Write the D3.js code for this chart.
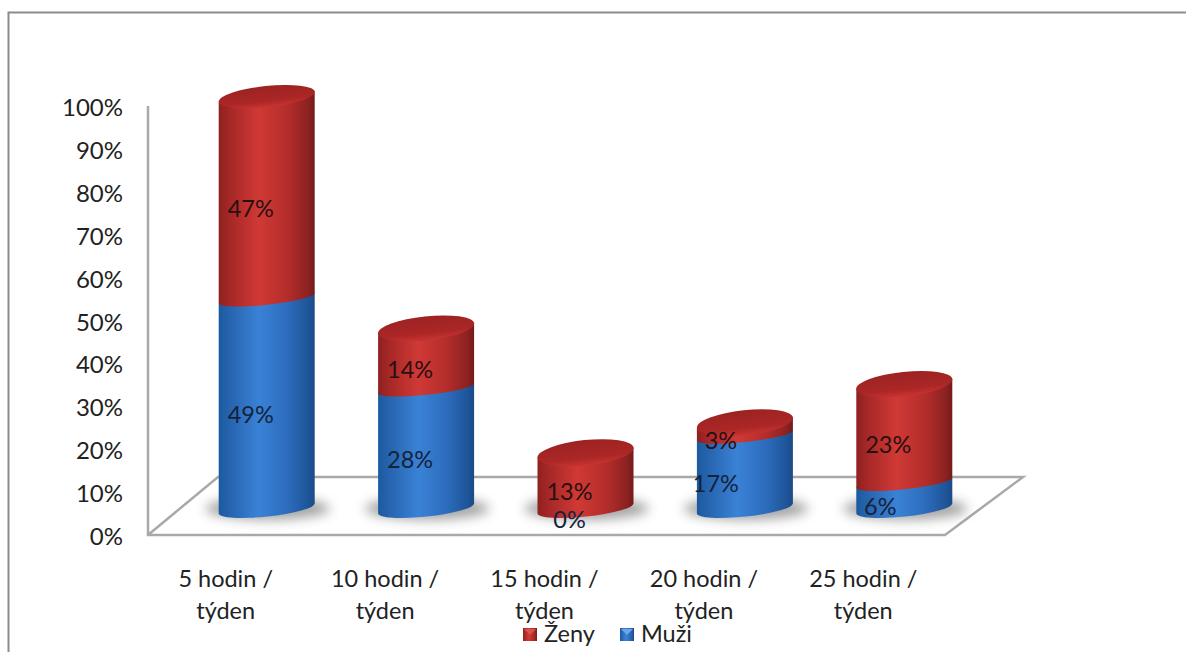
<!DOCTYPE html>
<html>
<head>
<meta charset="utf-8">
<script src="https://cdnjs.cloudflare.com/ajax/libs/d3/7.8.5/d3.min.js"></script>
<style>
  html, body { margin: 0; padding: 0; background: #fff; }
  svg { display: block; }
  text { font-family: Lato, "Open Sans", sans-serif; fill: #222; }
</style>
</head>
<body>
<svg id="chart" width="1186" height="652"></svg>
<script>
// Weekly hours by gender, drawn as stacked cylinders on a tilted floor
const categories = ["5 hodin /|týden", "10 hodin /|týden", "15 hodin /|týden", "20 hodin /|týden", "25 hodin /|týden"];
const muzi = [49, 28, 0, 17, 6];
const zeny = [47, 14, 13, 3, 23];
const yTicks = [0, 10, 20, 30, 40, 50, 60, 70, 80, 90, 100];
const legendNames = ["Ženy", "Muži"];

const svg = d3.select("#chart");
const defs = svg.append("defs");

const W = 1186, H = 652;
const x = d3.scaleBand().domain(categories).range([148, 945]);
const y = d3.scaleLinear().domain([0, 100]).range([535, 106]);

// Floor depth and the cylinder placement relative to the front axis
const depthX = 39, baseLift = 26.5;
const halfWidth = 48;
const tilt = -6 * Math.PI / 180;
const capRy = d3.scaleLinear().domain([0, 100]).range([13, 10.5]);
const edgeRy = d3.scaleLinear().domain([0, 6]).range([8, 6.5]).clamp(true);
const levelY = v => y(v) - baseLift;
const centerX = c => x(c) + x.bandwidth() / 2 + depthX;

function hGradient(id, stops) {
  const g = defs.append("linearGradient").attr("id", id)
    .attr("x1", "0%").attr("x2", "100%").attr("y1", "0%").attr("y2", "0%");
  stops.forEach(([o, c]) => g.append("stop").attr("offset", o).attr("stop-color", c));
}
hGradient("redBody", [["0%", "#8e2120"], ["12%", "#a62827"], ["42%", "#d03935"], ["72%", "#b32d2b"], ["93%", "#8c2221"], ["100%", "#761a1a"]]);
hGradient("blueBody", [["0%", "#1c5a9f"], ["14%", "#2866b2"], ["42%", "#3a82d6"], ["72%", "#2c6cbc"], ["93%", "#1f5599"], ["100%", "#1b4a88"]]);

const cap = defs.append("linearGradient").attr("id", "redCap")
  .attr("x1", "0%").attr("x2", "0%").attr("y1", "0%").attr("y2", "100%");
[["0%", "#9c2322"], ["70%", "#ab2726"], ["100%", "#c83331"]].forEach(([o, c]) =>
  cap.append("stop").attr("offset", o).attr("stop-color", c));

const blur = defs.append("filter").attr("id", "soft")
  .attr("x", "-30%").attr("y", "-80%").attr("width", "160%").attr("height", "260%");
blur.append("feGaussianBlur").attr("stdDeviation", 6);

// Outer frame
svg.append("path")
  .attr("d", `M8.5,${H} V12.5 H${W}`)
  .attr("fill", "none").attr("stroke", "#8c8c8c").attr("stroke-width", 2);

// Wall edge and floor outline
const floorLine = d3.line();
const x0 = x.range()[0], x1 = x.range()[1];
const y0 = y(0);
svg.append("path")
  .attr("d", floorLine([[x0, y(100)], [x0, y0], [x1, y0], [1023, 477], [x0 + 70, 477], [x0, y0]]))
  .attr("fill", "none").attr("stroke", "#a9a9a9").attr("stroke-width", 2.5);

// Vertical axis labels
svg.append("g").selectAll("text").data(yTicks).join("text")
  .attr("x", 123).attr("y", d => y(d) + 10)
  .attr("text-anchor", "end").attr("font-size", 24)
  .text(d => d + "%");

// Cast shadows on the floor
svg.append("g").selectAll("ellipse").data(categories).join("ellipse")
  .attr("cx", d => centerX(d) + 1)
  .attr("cy", levelY(0))
  .attr("rx", 62).attr("ry", 11)
  .attr("fill", "#6f6f6f").attr("opacity", 0.65)
  .attr("filter", "url(#soft)");

// One cylinder segment between two stacked levels
function segmentPath(cx, from, to) {
  const rx = halfWidth / Math.cos(tilt);
  const dy = rx * Math.sin(tilt);
  const deg = tilt * 180 / Math.PI;
  const yb = levelY(from), yt = levelY(to);
  const rb = edgeRy(from), rt = edgeRy(to);
  return `M${cx - halfWidth},${yt - dy}` +
    `L${cx - halfWidth},${yb - dy}` +
    `A${rx},${rb} ${deg} 0 0 ${cx + halfWidth},${yb + dy}` +
    `L${cx + halfWidth},${yt + dy}` +
    `A${rx},${rt} ${deg} 0 0 ${cx - halfWidth},${yt - dy}Z`;
}

const bars = svg.append("g").selectAll("g").data(categories).join("g");

bars.filter((d, i) => muzi[i] > 0).append("path")
  .attr("d", d => {
    const i = categories.indexOf(d);
    return segmentPath(centerX(d), 0, muzi[i]);
  })
  .attr("fill", "url(#blueBody)");

bars.append("path")
  .attr("d", (d, i) => segmentPath(centerX(d), muzi[i], muzi[i] + zeny[i]))
  .attr("fill", "url(#redBody)");

bars.append("ellipse")
  .attr("rx", halfWidth / Math.cos(tilt))
  .attr("ry", (d, i) => capRy(muzi[i] + zeny[i]))
  .attr("transform", (d, i) =>
    `translate(${centerX(d)},${levelY(muzi[i] + zeny[i])}) rotate(${tilt * 180 / Math.PI})`)
  .attr("fill", "url(#redCap)");

// Value labels sit left of each cylinder's axis, a little further out on the shorter bars
const labelShift = {muzi: [-16, -16, -16, -29, -24], zeny: [-16, -16, -16, -24, -16]};
const labelDrop = 19.5;
const labels = svg.append("g").attr("font-size", 23.5);
categories.forEach((c, i) => {
  labels.append("text")
    .attr("x", centerX(c) + labelShift.muzi[i])
    .attr("y", levelY(muzi[i] / 2) + labelDrop)
    .attr("text-anchor", "middle").style("fill", "#14233a")
    .text(muzi[i] + "%");
  labels.append("text")
    .attr("x", centerX(c) + labelShift.zeny[i])
    .attr("y", levelY(muzi[i] + zeny[i] / 2) + labelDrop)
    .attr("text-anchor", "middle").style("fill", "#2a1010")
    .text(zeny[i] + "%");
});

// Category labels on two lines
const catText = svg.append("g").selectAll("text").data(categories).join("text")
  .attr("text-anchor", "middle").attr("font-size", 23.5);
catText.each(function (d) {
  const cx = x(d) + x.bandwidth() / 2 - 2;
  d.split("|").forEach((line, k) => {
    d3.select(this).append("tspan")
      .attr("x", cx).attr("y", 587 + k * 32).text(line);
  });
});

// Legend
const legend = svg.append("g");
const legendFill = ["url(#redBody)", "url(#blueBody)"];
const legendBevel = ["#d9524d", "#6aa6e8"];
const legendX = d3.scalePoint().domain(legendNames).range([523, 620]);
const items = legend.selectAll("g").data(legendNames).join("g")
  .attr("transform", d => `translate(${legendX(d)},628)`);
items.append("rect").attr("width", 14).attr("height", 13)
  .attr("fill", (d, i) => legendFill[i]);
items.append("path").attr("d", d3.line()([[1, 1], [13, 1], [7, 7]]))
  .attr("fill", (d, i) => legendBevel[i]);
items.append("text").attr("x", 21).attr("y", 14)
  .attr("font-size", 23.5).text(d => d);
</script>
</body>
</html>
